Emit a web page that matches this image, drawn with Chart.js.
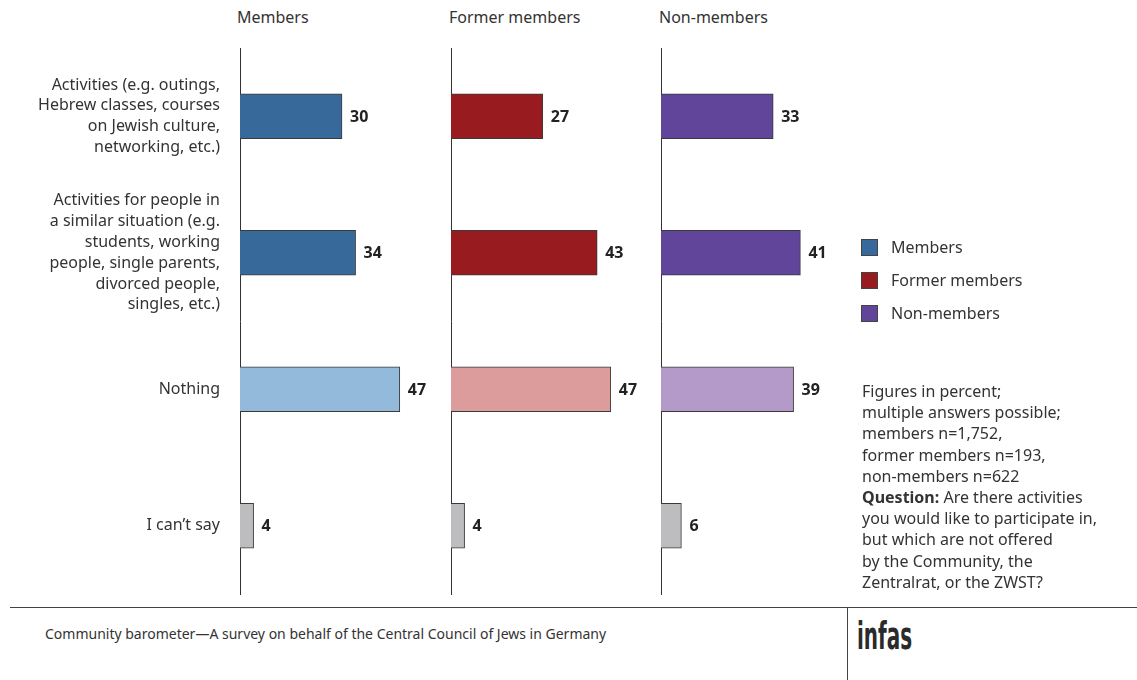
<!DOCTYPE html>
<html>
<head>
<meta charset="utf-8">
<script src="https://cdn.jsdelivr.net/npm/chart.js@4.4.0/dist/chart.umd.min.js"></script>
<style>
  body { margin: 0; background: #fff; font-family: "Noto Sans", sans-serif; color: #333; }
  #wrap { position: relative; width: 1137px; height: 680px; overflow: hidden; }
  .panel { position: absolute; top: 0; height: 600px; }
  .head { position: absolute; top: 6px; font-size: 16px; color: #333; }
  .legend { position: absolute; left: 861px; font-size: 16px; }
  .legend span.sw { position: absolute; left: 0; top: 3px; width: 15px; height: 15px; border: 1px solid #444; }
  .legend span.tx { position: absolute; left: 30px; top: 0; white-space: nowrap; }
  #note { position: absolute; left: 862px; top: 381px; font-size: 16px; line-height: 21.2px; white-space: nowrap; }
  #footline { position: absolute; left: 10px; top: 607px; width: 1127px; height: 1px; background: #444; }
  #footsep { position: absolute; left: 847px; top: 607px; width: 1px; height: 73px; background: #444; }
  #source { position: absolute; left: 45px; top: 624px; font-size: 14px; }
  #logo { position: absolute; left: 857px; top: 615px; font-family: "DejaVu Sans Condensed", "DejaVu Sans", sans-serif; font-weight: bold; font-size: 37px; color: #2a2a2a; transform: scaleX(0.6); transform-origin: left top; }
</style>
</head>
<body>
<div id="wrap">
  <div class="head" style="left:237px">Members</div>
  <div class="head" style="left:449px">Former members</div>
  <div class="head" style="left:659px">Non-members</div>

  <div class="panel" style="left:0; width:450px"><canvas id="membersChart"></canvas></div>
  <div class="panel" style="left:431px; width:230px"><canvas id="formerChart"></canvas></div>
  <div class="panel" style="left:641px; width:230px"><canvas id="nonChart"></canvas></div>

  <div class="legend" style="top:236px"><span class="sw" style="background:#376a9a"></span><span class="tx">Members</span></div>
  <div class="legend" style="top:269px"><span class="sw" style="background:#971b1f"></span><span class="tx">Former members</span></div>
  <div class="legend" style="top:302px"><span class="sw" style="background:#60459b"></span><span class="tx">Non-members</span></div>

  <div id="note">Figures in percent;<br>multiple answers possible;<br>members n=1,752,<br>former members n=193,<br>non-members n=622<br><b>Question:</b> Are there activities<br>you would like to participate in,<br>but which are not offered<br>by the Community, the<br>Zentralrat, or the ZWST?</div>

  <div id="footline"></div>
  <div id="footsep"></div>
  <div id="source">Community barometer—A survey on behalf of the Central Council of Jews in Germany</div>
  <div id="logo">infas</div>
</div>

<script>
// categories (multi-line tick labels)
const categories = [
  ['Activities (e.g. outings,', 'Hebrew classes, courses', 'on Jewish culture,', 'networking, etc.)'],
  ['Activities for people in', 'a similar situation (e.g.', 'students, working', 'people, single parents,', 'divorced people,', 'singles, etc.)'],
  'Nothing',
  'I can\u2019t say'
];

// values in percent
const membersValues = [30, 34, 47, 4];
const formerValues = [27, 43, 47, 4];
const nonMembersValues = [33, 41, 39, 6];

// bar colours per panel
const membersColors = ['#376a9a', '#376a9a', '#94badb', '#bdbdc0'];
const formerColors = ['#971b1f', '#971b1f', '#dd9c9c', '#bdbdc0'];
const nonMembersColors = ['#60459b', '#60459b', '#b39ac8', '#bdbdc0'];

const fontFamily = '"Noto Sans", sans-serif';

// draw the value next to each bar
const valueLabels = {
  id: 'valueLabels',
  afterDatasetsDraw(chart) {
    const ctx = chart.ctx;
    ctx.save();
    ctx.font = 'bold 16px ' + fontFamily;
    ctx.fillStyle = '#222';
    ctx.textAlign = 'left';
    ctx.textBaseline = 'middle';
    chart.getDatasetMeta(0).data.forEach((bar, i) => {
      ctx.fillText(chart.data.datasets[0].data[i], bar.x + 8, bar.y + 1);
    });
    ctx.restore();
  }
};

var makeChart = function(id, values, colors, showLabels, axisWidth) {
  return new Chart(document.getElementById(id), {
    type: 'bar',
    data: {
      labels: categories,
      datasets: [{
        data: values,
        backgroundColor: colors,
        borderColor: '#3a3a3a',
        borderWidth: 1,
        borderSkipped: 'left',
        barThickness: 45
      }]
    },
    options: {
      indexAxis: 'y',
      responsive: true,
      maintainAspectRatio: false,
      animation: false,
      layout: { padding: { top: 48, bottom: 6, left: 0, right: 0 } },
      plugins: { legend: { display: false }, tooltip: { enabled: false } },
      scales: {
        x: { display: false, min: 0, max: 210 / 3.4 },
        y: {
          afterFit: (scale) => {
            scale.width = axisWidth;
            scale.paddingTop = 0;
            scale.paddingBottom = 0;
          },
          grid: { display: false, drawTicks: false },
          border: { display: true, color: '#333', width: 1 },
          ticks: {
            display: showLabels,
            padding: 20,
            color: '#333',
            font: { family: fontFamily, size: 16, lineHeight: 1.3 }
          }
        }
      }
    },
    plugins: [valueLabels]
  });
};

makeChart('membersChart', membersValues, membersColors, true, 240);
makeChart('formerChart', formerValues, formerColors, false, 20);
makeChart('nonChart', nonMembersValues, nonMembersColors, false, 20);
</script>
</body>
</html>
